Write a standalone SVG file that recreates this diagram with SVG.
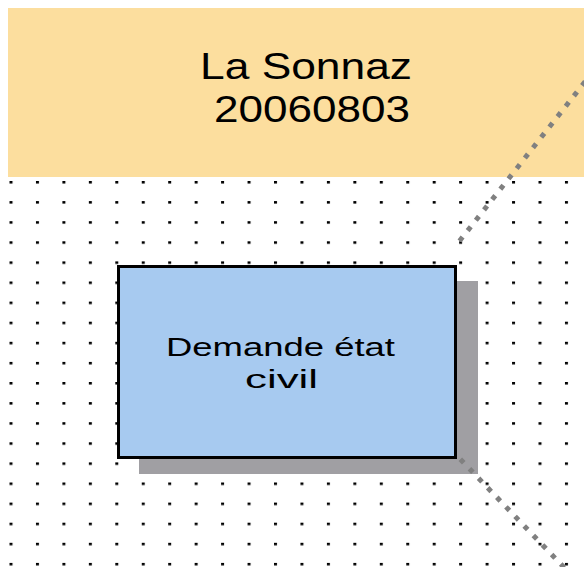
<svg xmlns="http://www.w3.org/2000/svg" width="584" height="567" viewBox="0 0 584 567">
  <style>
    .lbl { font-family: "Liberation Sans", Arial, sans-serif; fill: #000; }
    .conn { fill: none; stroke: #808080; stroke-width: 5; stroke-dasharray: 5 8.2; }
  </style>
  <defs>
    <pattern id="grid" patternUnits="userSpaceOnUse" x="9.5" y="181" width="26.45" height="20.1">
      <rect x="0" y="0" width="3" height="2.5" fill="#000"/>
    </pattern>
  </defs>
  <rect x="0" y="0" width="584" height="567" fill="#FFFFFF"/>
  <rect id="grid-area" x="8" y="177" width="576" height="390" fill="url(#grid)"/>

  <g id="lane-header">
    <rect x="8" y="8" width="576" height="169" fill="#FCDE9E"/>
    <text class="lbl" x="200" y="79" font-size="36" textLength="212" lengthAdjust="spacingAndGlyphs">La Sonnaz</text>
    <text class="lbl" x="214" y="122" font-size="36" textLength="196" lengthAdjust="spacingAndGlyphs">20060803</text>
  </g>

  <g id="node-demande">
    <rect x="139" y="281" width="339" height="193" fill="#A09FA3"/>
    <rect x="118.5" y="266.5" width="337" height="191" fill="#A7CAF0" stroke="#000" stroke-width="3"/>
    <text class="lbl" x="166" y="356" font-size="25" textLength="229" lengthAdjust="spacingAndGlyphs">Demande état</text>
    <text class="lbl" x="245" y="388" font-size="25" textLength="73" lengthAdjust="spacingAndGlyphs">civil</text>
  </g>

  <g id="connectors">
    <path class="conn" d="M459.5 241 L612 47.5"/>
    <path class="conn" d="M460.3 459.2 L600 605"/>
  </g>
</svg>
